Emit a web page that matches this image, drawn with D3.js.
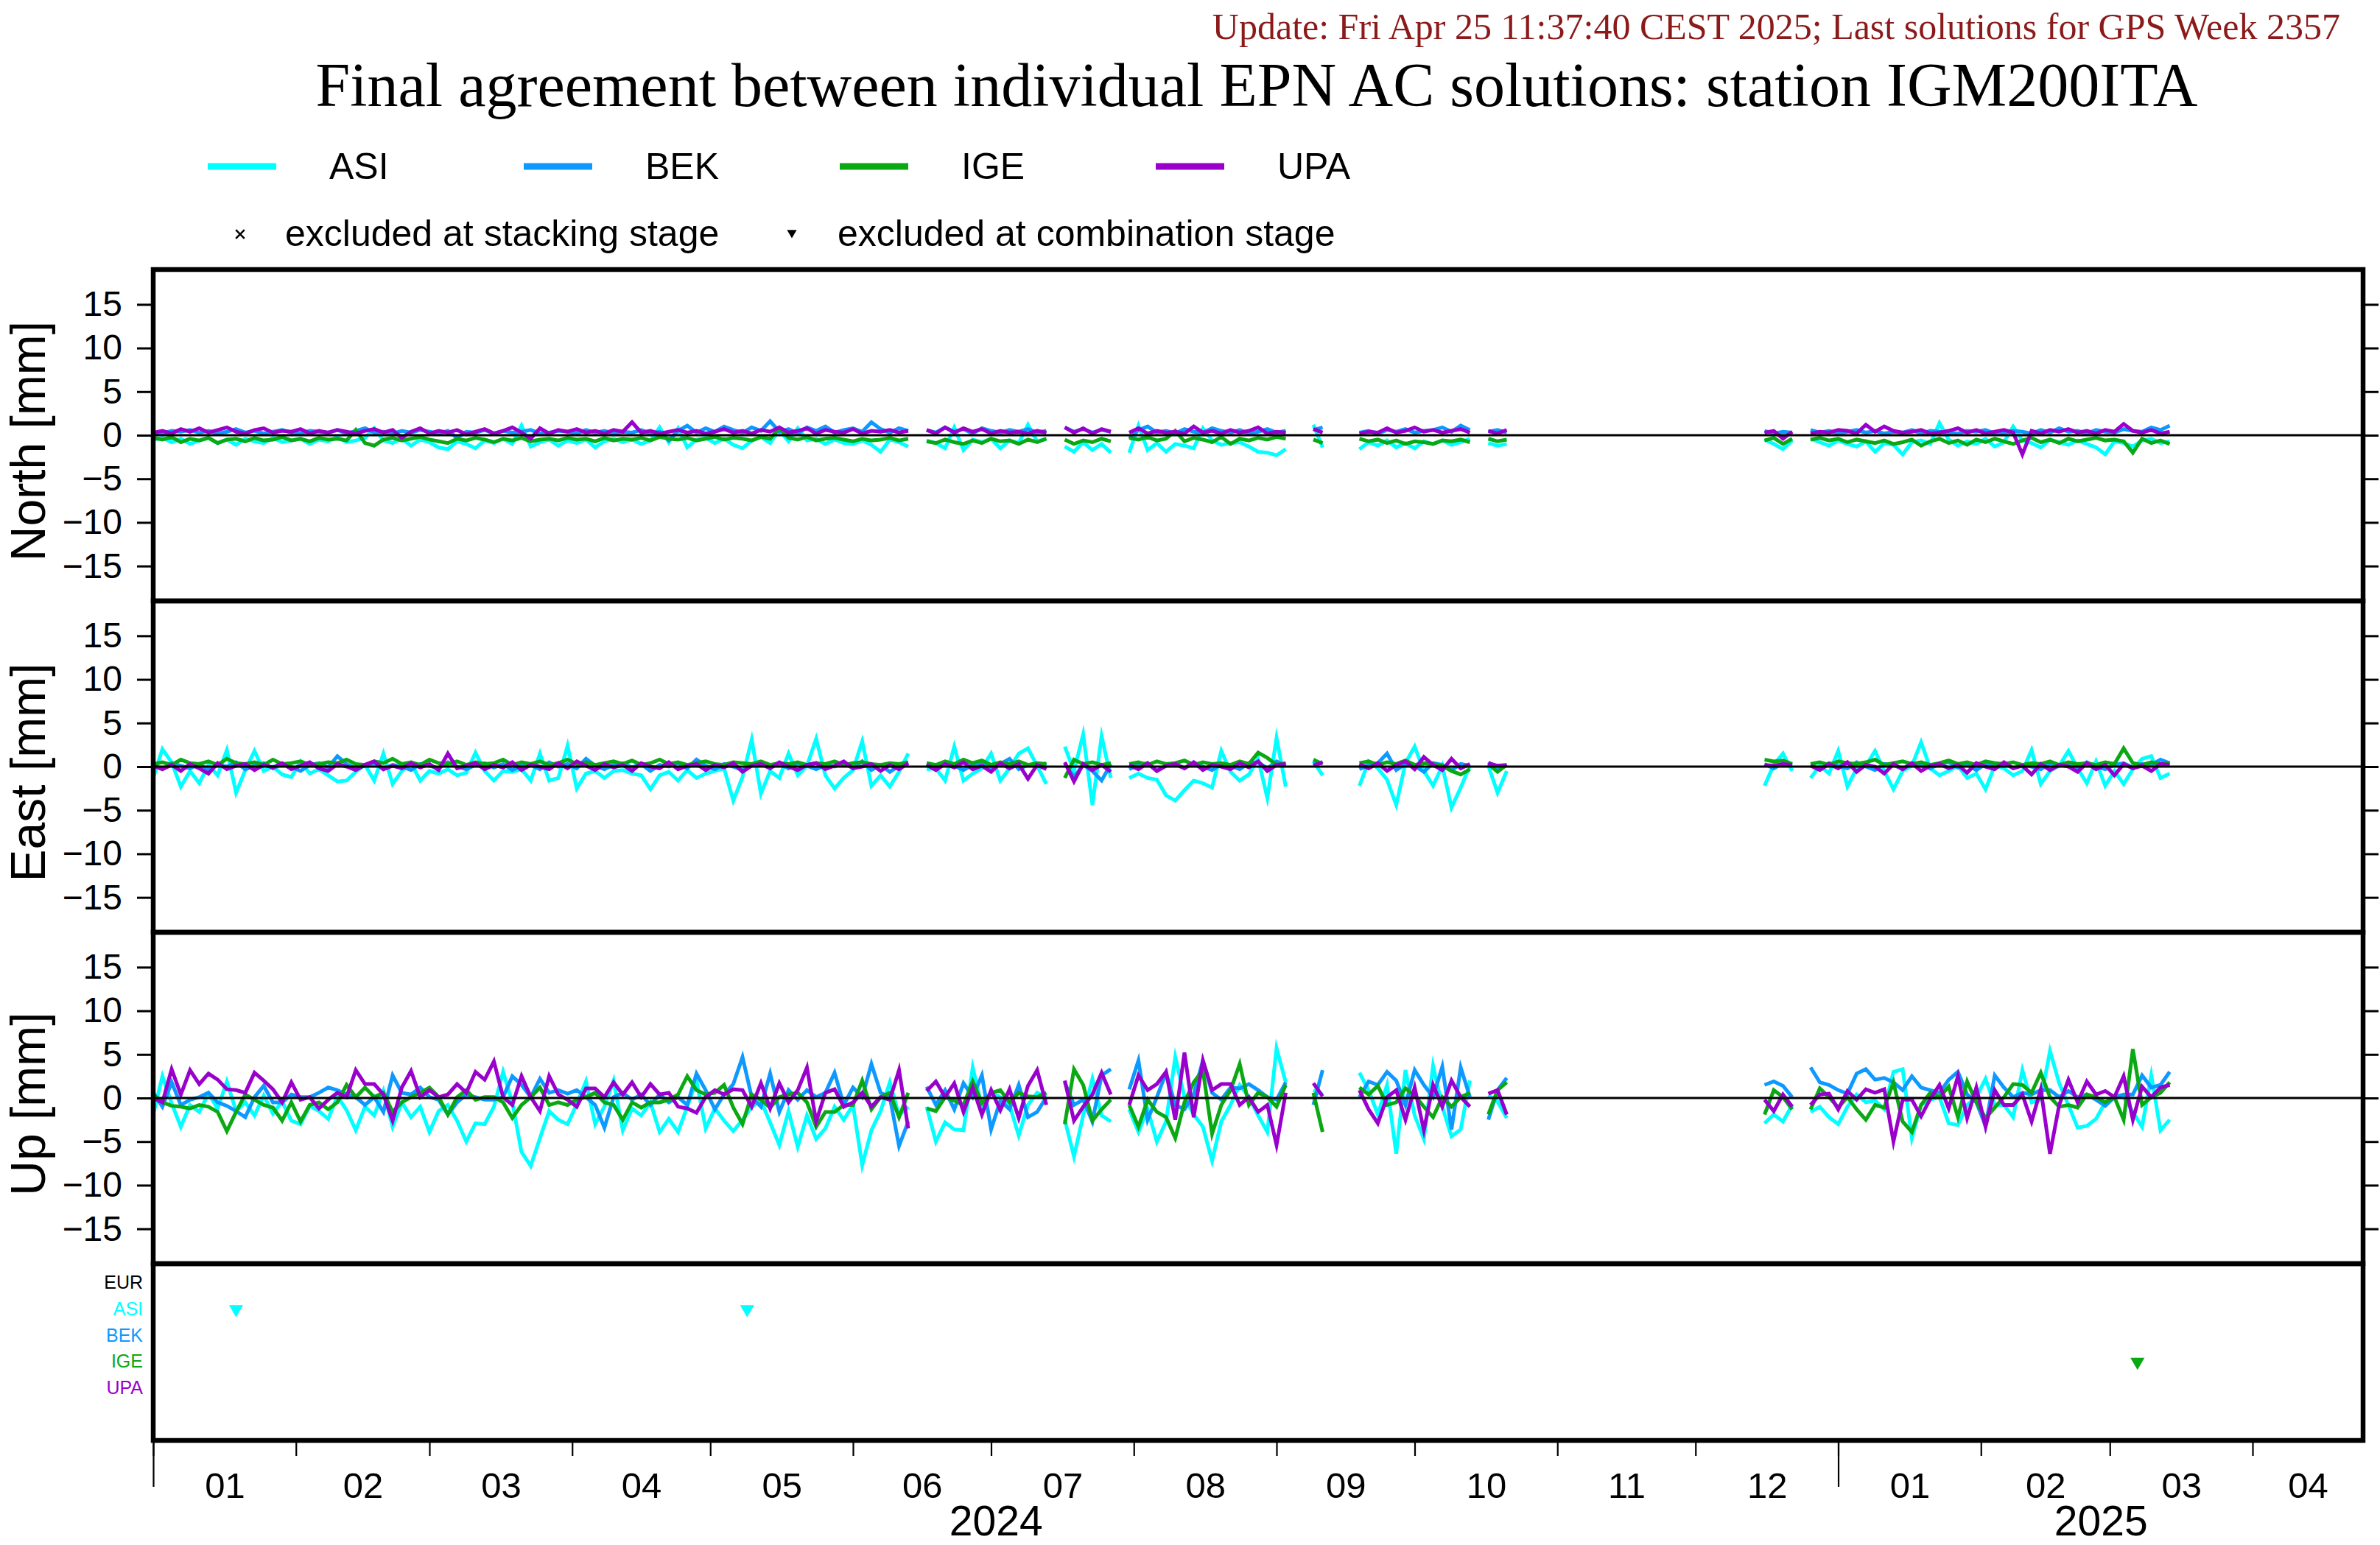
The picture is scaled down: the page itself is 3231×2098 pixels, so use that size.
<!DOCTYPE html>
<html><head><meta charset="utf-8">
<script src="https://cdn.jsdelivr.net/npm/d3@7"></script>
<style>html,body{margin:0;padding:0;background:#fff;}svg{display:block;}</style>
</head><body>
<svg id="chart" width="3231" height="2098"></svg>
<script>
// ---------------- data ----------------
const titleText = "Final agreement between individual EPN AC solutions: station IGM200ITA";
const updateText = "Update: Fri Apr 25 11:37:40 CEST 2025; Last solutions for GPS Week 2357";
const acNames = ["ASI", "BEK", "IGE", "UPA"];
const acColors = ["#00ffff", "#0d99ff", "#0aa813", "#9900cc"];
const componentLabels = ["North [mm]", "East [mm]", "Up [mm]"];
const yTickValues = [-15, -10, -5, 0, 5, 10, 15];
const timeStart = "2024-01-01";
const timeEnd = "2025-04-25";
// each series is a list of continuous segments; segment k starts at segmentStarts[k], one value every sampleStepDays
const segmentStarts = ["2024-01-01", "2024-06-17", "2024-07-17", "2024-07-31", "2024-09-09", "2024-09-19", "2024-10-17", "2024-12-16", "2024-12-26"];
const sampleStepDays = 2;

const northASI = [
 [-0.5,-0.3,-0.8,-0.4,-1.0,-0.6,-0.3,-0.9,-0.5,-1.1,-0.4,-0.7,-0.9,-0.3,-0.8,-0.6,-0.4,-1.0,-0.5,-0.7,-0.2,-0.8,-0.6,-0.3,0.8,-0.6,-0.9,-0.4,-1.2,-0.5,-0.8,-1.4,-1.6,-0.7,-1.0,-1.5,-0.6,-0.9,-0.4,-1.0,1.1,-1.3,-0.8,-0.5,-1.2,-0.6,-0.9,-0.5,-1.4,-0.7,-0.4,-0.8,-0.5,-1.0,-0.6,0.9,-0.8,0.8,-1.4,-0.5,-0.3,-0.9,-0.4,-1.1,-1.5,-0.6,-0.2,-0.9,0.6,-0.7,0.8,-0.6,-0.4,-1.0,-0.5,-0.9,-1.0,-0.6,-1.1,-1.9,-0.5,-0.8,-1.3],
 [-0.6,-0.9,-1.5,0.9,-1.7,-0.5,-0.8,-0.4,-1.5,-0.6,-0.9,1.2,-0.7,-0.4],
 [-1.3,-1.9,-0.8,-1.7,-1.0,-2.0],
 [-2.0,1.1,-1.7,-0.9,-1.9,-1.0,-1.2,-1.5,0.8,-0.6,-1.1,-0.9,-0.8,-1.3,-1.9,-2.0,-2.3,-1.6],
 [1.2,-1.4],
 [-1.6,-0.8,-1.2,-0.6,-1.4,-0.9,-1.5,-0.7,-1.0,-0.6,-1.1,-0.8,-0.4],
 [-0.9,-1.2,-1.0],
 [-0.5,-1.0,-1.6,-0.6],
 [-0.4,-0.8,-1.2,-0.6,-1.0,-1.3,-0.7,-1.9,-0.9,-1.1,-2.2,-0.8,-0.6,-1.0,1.4,-0.5,-1.2,-0.7,-1.0,-0.4,-1.3,-0.8,1.0,-0.6,-0.9,-1.4,-0.5,-0.8,-1.1,-0.6,-1.0,-1.4,-2.2,-0.7,-0.9,-1.3,-0.6,-0.4,-0.9,-0.7]
];
const northBEK = [
 [0.3,0.2,0.5,0.4,0.6,0.3,0.5,0.2,0.4,0.7,0.3,0.5,0.2,0.4,0.6,0.3,0.2,0.5,0.4,0.3,0.6,0.2,0.5,0.8,0.3,0.4,0.2,0.5,0.3,0.6,0.4,0.2,0.5,-0.3,0.4,0.3,0.6,0.2,0.5,0.3,0.4,0.6,0.2,0.3,0.5,0.4,0.2,0.6,0.3,0.5,0.2,0.4,0.3,0.6,0.2,0.4,-0.6,0.5,1.1,0.3,0.8,0.4,1.0,0.6,0.3,0.9,0.5,1.6,0.4,0.7,0.2,0.9,0.5,1.0,0.3,0.6,0.8,0.4,1.5,0.7,0.3,0.8,0.5],
 [0.6,0.3,0.9,0.4,0.7,0.2,0.8,0.5,0.3,0.6,0.4,0.7,0.3,0.5],
 [0.9,0.4,0.7,0.3,0.6,0.4],
 [-0.4,0.6,1.0,0.3,0.5,0.2,0.7,0.4,0.3,0.8,0.5,0.3,0.6,0.2,0.4,0.7,0.3,0.5],
 [0.6,0.9],
 [0.3,0.5,0.2,0.6,0.4,0.7,0.3,0.5,0.6,0.9,0.4,1.1,0.6],
 [0.4,0.6,0.3],
 [0.5,0.2,0.4,0.3],
 [0.6,0.3,0.5,0.2,0.4,0.6,0.3,0.5,0.2,0.4,0.3,0.6,0.2,0.5,0.4,0.3,0.2,0.5,0.4,0.6,0.2,0.3,0.5,0.4,0.2,0.6,0.3,0.8,0.4,0.5,0.2,0.6,0.4,0.3,0.7,0.5,0.4,0.9,0.6,1.1]
];
const northIGE = [
 [-0.3,-0.5,-0.2,-0.8,-0.4,-0.6,-0.3,-0.9,-0.5,-0.4,-0.7,-0.3,-0.6,-0.5,-0.2,-0.6,-0.4,-0.7,-0.3,-0.5,-0.4,-0.6,0.6,-0.9,-1.2,-0.5,-0.3,-0.6,-0.4,-0.2,-0.5,-0.7,-0.9,-0.4,-0.6,-0.3,-0.5,-0.8,-0.4,-0.6,-0.3,-0.7,-0.5,-0.4,-0.6,-0.3,-0.5,-0.4,-0.7,-0.3,-0.6,-0.4,-0.5,-0.3,-0.6,-0.2,-0.4,-0.5,-0.3,-0.6,-0.4,-0.2,-0.5,-0.3,-0.4,-0.6,-0.2,-0.4,0.8,-0.3,-0.5,-0.2,-0.6,-0.4,-0.3,-0.5,-0.7,-0.4,-0.6,-0.5,-0.3,-0.6,-0.4],
 [-0.7,-0.9,-0.5,-0.8,-1.0,-0.6,-0.9,-0.4,-0.7,-0.6,-1.0,-0.5,-0.8,-0.4],
 [-0.5,-1.0,-0.6,-0.8,-0.4,-0.7],
 [-0.3,-0.5,-0.2,-0.6,-0.4,0.5,-0.7,-0.3,-0.5,-0.8,-0.2,-1.0,-0.4,-0.6,-0.3,-0.5,-0.2,-0.4],
 [-0.5,-0.9],
 [-0.4,-0.7,-0.5,-0.9,-0.6,-1.0,-0.7,-0.8,-1.0,-0.6,-0.7,-0.5,-0.8],
 [-0.4,-0.7,-0.5],
 [-0.6,-0.3,-1.0,-0.4],
 [-0.5,-0.3,-0.6,-0.4,-0.8,-0.5,-0.7,-0.9,-0.6,-1.0,-0.8,-0.5,-1.2,-0.7,-0.4,-0.9,-0.6,-1.1,-0.5,-0.8,-0.4,-0.7,-1.0,-0.6,-0.3,-0.8,-0.5,-0.9,-0.4,-0.7,-0.5,-0.3,-0.6,-0.5,-0.7,-2.0,-0.4,-0.9,-0.6,-1.0]
];
const northUPA = [
 [0.3,0.5,0.2,0.7,0.4,0.8,0.3,0.6,0.9,0.4,0.2,0.6,0.8,0.3,0.5,0.4,0.7,0.2,0.5,0.3,0.6,0.4,0.2,0.5,0.7,0.3,0.6,-0.3,0.4,0.8,0.2,0.5,0.3,0.6,0.1,0.4,0.7,0.2,0.5,0.9,0.3,-0.4,0.8,0.2,0.6,0.4,0.7,0.3,0.5,0.2,0.6,0.4,1.5,0.3,0.5,0.2,0.4,0.6,0.3,0.5,0.2,0.4,0.7,0.3,0.5,0.2,0.6,0.4,0.9,0.3,0.5,0.8,0.2,0.6,0.4,0.3,0.7,0.2,0.5,0.4,0.6,0.3,0.5],
 [0.6,0.2,0.9,0.3,0.8,0.4,0.7,0.2,0.5,0.3,0.4,0.2,0.5,0.3],
 [0.9,0.3,0.8,0.2,0.7,0.4],
 [0.3,0.8,0.2,0.5,0.3,0.4,0.2,1.0,0.3,0.5,0.2,0.6,0.3,0.5,0.9,0.2,0.4,0.3],
 [0.7,0.3],
 [0.2,0.4,0.3,0.8,0.3,0.5,0.9,0.4,0.6,0.3,0.5,0.7,0.3],
 [0.5,0.2,0.6],
 [0.3,0.5,-0.4,0.4],
 [0.2,0.4,0.3,0.6,0.5,0.2,1.2,0.4,1.0,0.5,0.3,0.4,0.6,0.2,0.3,0.5,0.8,0.3,0.6,0.2,0.4,0.6,0.3,-2.2,0.5,0.2,0.6,0.4,0.7,0.3,0.5,0.2,0.6,0.4,1.3,0.5,0.3,0.6,0.2,0.4]
];

const eastASI = [
 [-1.3,2.0,0.5,-2.3,-0.5,-1.9,0.2,-1.0,1.9,-3.0,-0.4,1.8,-0.5,0.0,-0.9,-1.2,0.6,-0.8,-0.3,-1.0,-1.7,-1.6,-0.6,0.2,-1.6,1.5,-2.0,-0.5,0.4,-1.6,-0.5,-0.8,-0.3,-1.0,-0.7,1.6,-0.5,-1.6,-0.5,-0.6,-0.3,-1.6,1.5,-1.6,-1.3,2.4,-2.5,-0.8,-0.5,-1.3,-0.5,-0.4,-0.8,-1.0,-2.6,-1.0,-0.6,-1.6,-0.4,-1.3,-0.8,-0.5,-0.2,-3.9,-1.2,3.1,-3.1,-0.5,-1.3,1.5,-1.0,0.1,3.2,-1.0,-2.5,-1.3,-0.4,2.9,-2.2,-1.0,-2.3,-0.6,1.5],
 [-0.3,-0.2,-1.6,2.3,-1.6,-0.8,-0.2,1.5,-1.6,-0.2,1.5,2.1,0.1,-2.0],
 [2.3,-0.5,3.7,-4.4,3.5,-1.3],
 [-1.3,-0.8,-1.3,-1.5,-3.3,-3.9,-2.7,-1.6,-1.9,-2.4,1.8,-0.6,-1.6,-0.9,0.9,-3.6,3.3,-2.3],
 [0.6,-1.0],
 [-2.2,0.6,-0.2,-1.5,-4.4,0.4,2.3,-0.5,-2.2,0.1,-4.7,-2.4,0.1],
 [0.1,-3.0,-0.5],
 [-2.2,0.2,1.5,-0.5],
 [-1.3,0.1,-0.8,1.8,-2.3,-0.2,0.1,1.8,-0.5,-2.6,-0.5,0.1,2.8,-0.2,-1.0,-0.5,0.1,-1.3,-0.8,-2.6,0.1,-0.2,-1.0,-0.5,1.9,-2.0,-0.5,0.1,1.8,-0.2,-1.9,0.6,-2.2,-0.5,-2.0,-0.3,0.9,1.2,-1.3,-0.8]
];
const eastBEK = [
 [0.2,-0.3,0.4,0.1,-0.2,0.3,-0.4,0.2,0.0,0.5,-0.3,0.1,0.4,-0.2,0.3,0.0,-0.5,0.2,0.4,-0.1,1.2,0.3,-0.2,0.1,0.4,-0.3,0.2,0.0,-0.4,0.3,0.1,-0.2,0.5,0.0,-0.3,0.2,0.4,-0.1,0.3,-0.4,0.1,0.2,-0.3,0.5,0.0,0.3,-0.2,0.9,0.1,-0.3,0.2,0.4,-0.1,0.3,-0.5,0.2,0.0,0.4,-0.2,0.8,0.1,-0.3,0.3,0.0,-0.4,0.2,0.5,-0.1,0.3,-0.2,0.4,0.1,-0.3,0.2,0.0,0.4,-0.2,0.6,-0.4,0.2,-0.6,0.1,0.3],
 [0.3,-0.2,0.5,0.1,-0.4,0.2,0.4,-0.1,0.3,0.9,-0.3,0.2,0.0,0.4],
 [0.4,-1.2,0.2,-0.5,-1.6,0.3],
 [-0.3,0.2,0.4,-0.5,0.1,0.3,-0.2,0.5,0.0,-0.4,0.3,0.1,-0.3,0.4,0.5,-0.2,0.6,0.1],
 [0.3,0.5],
 [-0.3,0.2,0.4,1.5,-0.4,0.3,0.1,-0.6,0.4,0.2,-0.4,0.3,0.1],
 [0.5,-0.4,0.2],
 [0.3,-0.2,0.4,0.1],
 [0.2,-0.3,0.4,0.1,-0.2,0.5,0.0,-0.4,0.3,0.2,-0.3,0.4,0.1,-0.2,0.3,0.5,-0.1,0.2,-0.4,0.3,0.1,0.4,-0.2,0.2,0.0,-0.3,0.4,0.1,0.3,-0.2,0.5,0.0,-0.3,0.2,0.4,-0.1,0.3,0.2,0.8,0.4]
];
const eastIGE = [
 [0.3,0.5,0.2,0.8,0.4,0.3,0.6,0.2,0.9,0.4,0.3,0.5,0.2,0.8,0.3,0.4,0.6,0.2,0.3,0.5,0.4,0.8,0.3,0.2,0.6,0.4,0.9,0.3,0.5,0.2,0.8,0.4,0.3,0.6,0.2,0.5,0.3,0.4,0.8,0.2,0.5,0.3,0.6,0.2,0.4,0.8,0.3,0.5,0.2,0.4,0.6,0.3,0.7,0.2,0.4,0.8,0.3,0.5,0.2,0.4,0.6,0.3,0.2,0.5,0.4,0.3,0.6,0.2,0.4,0.3,0.5,0.2,0.4,0.3,0.6,0.2,0.4,0.5,0.3,0.2,0.4,0.3,0.5],
 [0.4,0.2,0.6,0.3,0.8,0.4,0.7,0.2,0.5,0.3,0.6,0.2,0.4,0.3],
 [-1.3,0.8,0.3,0.5,0.2,0.4],
 [0.3,0.5,0.2,0.6,0.3,0.4,0.7,0.2,0.5,0.3,0.4,0.2,0.6,0.3,1.6,1.0,0.2,0.4],
 [0.8,0.3],
 [0.4,0.6,0.2,0.5,0.3,0.7,0.2,0.4,0.3,0.1,-0.5,-0.9,-0.3],
 [0.3,-0.6,0.2],
 [0.8,0.6,0.7,0.3],
 [0.3,0.5,0.2,0.6,0.4,0.3,0.5,0.8,0.2,0.4,0.6,0.3,0.5,0.2,0.4,0.7,0.3,0.5,0.2,0.6,0.4,0.3,0.5,0.2,0.4,0.3,0.6,0.2,0.5,0.3,0.4,0.2,0.5,0.3,2.1,0.4,0.2,0.5,0.3,0.4]
];
const eastUPA = [
 [0.1,-0.3,0.2,-0.5,0.3,-0.2,-0.8,0.4,-0.3,0.1,0.3,-0.4,0.2,-0.1,0.4,-0.3,0.1,0.5,-0.2,-0.5,0.3,0.0,-0.4,0.2,0.6,-0.3,0.1,-0.2,0.4,-0.1,0.3,-0.4,1.5,-0.2,0.1,0.4,-0.3,0.2,-0.1,0.5,-0.4,0.2,0.0,-0.3,0.4,-0.2,0.6,0.1,-0.4,0.3,-0.1,0.2,-0.5,0.4,0.0,-0.2,0.5,-0.3,0.1,0.3,-0.4,0.2,-0.1,0.4,-0.6,0.1,0.3,-0.2,0.5,0.0,-0.4,0.2,0.4,-0.3,0.1,0.6,-0.2,0.0,0.3,-0.5,0.2,-0.3,0.4],
 [0.2,-0.4,0.3,-0.1,0.5,-0.3,0.1,-0.6,0.4,-0.2,0.3,-1.4,0.2,-0.3],
 [0.5,-1.7,0.3,-0.4,0.2,-0.6],
 [0.2,-0.3,0.4,-0.5,0.1,0.3,-0.2,0.5,-0.4,0.2,0.0,-0.3,0.4,-0.1,0.6,-0.5,0.2,0.3],
 [0.1,0.5],
 [0.3,-0.2,0.4,-0.5,0.2,0.6,-0.3,1.1,0.2,-0.4,0.9,-0.2,0.3],
 [0.4,0.1,0.2],
 [0.2,0.1,0.3,0.2],
 [0.1,-0.4,0.3,-0.2,0.5,-0.6,0.2,0.0,-0.8,0.3,-0.3,0.4,-0.5,0.1,0.3,-0.2,0.2,-0.7,0.4,0.0,-0.3,0.5,-0.2,0.1,-0.9,0.3,-0.4,0.2,0.0,-0.6,0.4,-0.3,0.2,-1.0,0.3,-0.2,0.1,-0.5,0.3,0.2]
];

const upASI = [
 [-1.9,2.5,-0.6,-3.3,-0.8,-1.6,0.5,-1.2,1.9,-1.5,-0.5,-2.0,0.3,-1.8,-0.4,-2.6,-3.0,-0.9,-1.5,-2.4,0.2,-1.4,-3.7,-1.0,-2.0,0.8,-3.3,-0.5,-2.2,-1.0,-3.9,-1.5,-0.8,-2.6,-5.0,-2.9,-3.0,-1.0,3.0,-0.5,-6.2,-7.8,-4.6,-1.5,-2.5,-3.0,-0.7,1.9,-3.0,-1.0,2.0,-3.7,-1.2,-2.0,-0.5,-3.9,-2.4,-3.9,-1.0,2.0,-3.5,-1.2,-2.6,-3.8,-2.5,-1.0,-0.3,-2.8,-5.4,-1.5,-5.6,-2.0,-4.7,-3.5,-1.0,-2.5,-0.8,-7.7,-3.7,-1.5,1.8,-2.0,-1.0],
 [-1.0,-5.0,-2.8,-3.6,-3.7,3.5,-1.0,0.6,0.1,-0.8,-4.3,-0.8,0.6,0.1],
 [-2.5,-6.7,-2.0,2.2,-2.0,-2.7],
 [-1.3,-3.9,-1.3,-5.0,-2.7,4.7,0.1,-1.9,-3.3,-7.2,-2.7,-0.8,1.5,0.1,-2.0,-3.9,5.7,1.8],
 [0.9,0.4],
 [2.9,0.9,-1.9,1.5,-6.4,3.2,-2.0,-4.7,3.7,-1.0,-4.4,-3.6,2.0],
 [0.3,-0.4,-2.3],
 [-2.9,-1.9,-2.7,-0.8],
 [-1.6,-1.0,-2.2,-3.0,-1.0,0.4,-0.5,-0.3,-1.3,3.0,3.3,-4.6,-0.8,-0.2,0.1,-2.9,-3.1,-0.8,0.1,2.2,-0.8,-0.8,-2.2,3.2,-0.5,-0.2,5.4,1.7,-0.8,-3.4,-3.2,-2.4,-0.5,0.1,0.1,-1.6,-3.3,2.6,-3.7,-2.5]
];
const upBEK = [
 [0.6,-1.0,1.8,-0.8,-0.2,0.1,0.6,-0.5,-0.9,-1.5,-2.2,0.1,1.4,-0.5,-0.5,0.4,0.1,0.1,0.6,1.2,0.9,0.4,0.1,-0.8,0.1,-1.6,2.6,0.6,0.4,1.2,0.1,-0.2,-1.9,-0.5,0.4,0.1,-0.2,-0.2,0.1,2.5,1.5,0.1,2.2,0.6,0.9,0.5,0.9,0.1,-0.8,-3.4,0.1,0.6,-0.2,0.4,-0.8,0.4,-0.5,0.1,-0.8,2.8,0.9,-1.3,0.4,1.6,4.7,0.1,-1.0,2.8,-1.6,0.9,-0.2,0.9,0.1,0.6,2.9,-0.8,1.2,0.1,3.9,0.6,0.1,-5.5,-2.7],
 [1.3,-0.8,0.9,-1.3,1.7,0.1,2.6,-3.6,-0.3,-1.3,1.5,-2.2,-1.6,0.1],
 [1.8,-0.8,-0.2,-2.7,2.6,3.3],
 [1.0,4.3,-2.5,0.1,2.9,-0.8,-1.3,0.4,4.3,0.6,-0.2,1.2,1.1,1.6,0.9,0.1,-0.2,1.8],
 [-0.8,3.2],
 [0.1,1.9,1.5,3.0,2.0,-0.8,3.2,1.5,0.1,3.6,-3.6,3.5,0.1],
 [-2.5,0.9,2.3],
 [1.5,1.9,1.4,0.1],
 [3.5,1.8,1.5,0.9,0.5,2.8,3.3,2.1,2.3,1.8,0.9,2.5,1.2,0.9,0.6,2.1,3.0,0.4,-0.5,-3.2,2.6,1.2,0.1,0.6,0.4,0.9,0.9,0.1,0.8,0.1,0.4,-0.2,-0.9,0.1,0.4,0.4,2.6,1.2,1.5,3.0]
];
const upIGE = [
 [0.4,-0.5,-0.9,-1.0,-1.2,-0.8,-1.0,-1.6,-3.8,-1.6,0.4,-0.2,-0.8,-1.1,-2.6,-0.5,-2.7,-0.8,-0.5,-1.3,-0.5,1.5,0.1,1.2,0.1,0.6,-1.6,-0.5,0.1,0.6,1.2,0.1,-1.9,0.1,0.9,-0.2,0.1,0.1,-0.5,-2.3,-0.8,0.1,1.2,-0.8,-0.5,-0.8,-0.2,0.1,0.6,-0.5,-0.8,-2.5,-0.5,-1.1,-0.5,-0.5,-0.2,0.4,2.5,0.9,0.4,0.6,1.5,-1.1,-3.0,0.4,-0.2,-1.1,0.1,0.4,0.6,-0.5,-3.3,-1.6,-1.6,-0.8,-0.8,2.0,-1.3,0.1,0.6,-2.2,0.6],
 [-1.2,-1.5,0.1,-0.3,-0.8,1.9,-0.6,0.6,0.9,-0.5,0.6,0.2,0.1,0.6],
 [-3.0,3.3,1.5,-2.6,-1.3,-0.2],
 [-0.8,-3.3,-0.2,-1.6,-2.2,-4.6,-0.5,1.8,3.2,-4.1,-0.8,0.9,3.9,-0.8,0.6,0.1,-1.0,1.5],
 [0.6,-3.9],
 [1.2,0.4,1.4,-0.8,-0.5,1.1,0.3,-1.0,-2.2,0.1,-1.0,0.1,0.6],
 [-1.9,0.9,1.8],
 [-1.9,0.9,0.1,-1.3],
 [-1.3,1.1,0.1,-1.1,0.1,-1.3,-2.5,-0.8,-1.1,1.8,-2.7,-3.9,-0.8,0.6,0.1,1.3,-2.2,1.9,-0.5,-2.3,-1.1,0.1,1.6,1.5,0.6,2.9,0.1,-1.0,-0.8,-1.1,0.4,0.1,-0.5,0.1,-2.5,5.6,-0.8,0.1,0.6,1.8]
];
const upUPA = [
 [0.0,-0.5,3.3,0.4,3.2,1.6,2.8,2.1,1.0,0.9,0.6,2.9,2.0,1.0,-0.5,1.8,-0.2,0.1,-1.2,-0.2,0.6,0.1,3.2,1.6,1.6,0.4,-2.6,1.2,3.1,0.1,0.9,0.1,0.4,1.6,0.6,3.0,2.1,4.2,0.1,-0.8,2.5,0.1,-1.5,2.5,0.4,-0.2,-1.0,1.1,1.1,0.1,1.8,0.4,1.8,0.1,1.6,0.4,0.6,-1.0,-1.2,-1.7,0.1,0.9,0.4,1.0,0.9,-1.0,1.7,-1.2,1.7,-0.5,0.9,3.5,-2.7,0.6,1.0,-1.0,-0.5,0.6,-1.0,0.1,-0.2,3.2,-3.5],
 [0.8,1.9,0.1,1.7,-1.6,1.2,-1.9,0.9,-1.4,1.0,-2.3,1.4,3.2,-0.8],
 [2.0,-2.6,-1.0,0.4,2.9,0.4],
 [-0.8,2.6,0.9,1.6,3.0,-2.5,5.2,-2.2,4.3,0.9,1.6,1.6,-0.8,0.1,-1.6,-0.8,-5.4,0.6],
 [1.7,0.2],
 [0.9,-1.3,-2.9,0.1,0.9,-2.5,1.2,-3.7,1.5,-1.0,2.0,0.1,-1.0],
 [0.5,0.9,-1.9],
 [-0.2,-1.5,0.4,-1.0],
 [-0.8,0.4,0.5,-1.3,0.8,-0.2,1.0,0.6,1.0,-5.0,-0.2,-0.2,-2.1,-0.1,1.5,-1.2,2.5,-2.3,1.2,-3.3,0.9,-0.8,-0.8,0.4,-2.7,1.0,-6.4,-0.8,2.1,-0.5,1.9,0.4,0.8,0.1,2.5,-2.5,1.3,0.1,1.2,1.5]
];

// exclusions shown in the bottom panel
const statusRows = ["EUR", "ASI", "BEK", "IGE", "UPA"];
const statusRowColors = ["#000000", "#00ffff", "#0d99ff", "#0aa813", "#9900cc"];
const excludedAC = ["ASI", "ASI", "IGE"];
const excludedDates = ["2024-01-19", "2024-05-09", "2025-03-07"];

// ---------------- drawing ----------------
const sans = "'Liberation Sans', Arial, Helvetica, sans-serif";
const serif = "'Liberation Serif', 'Times New Roman', Times, serif";
const parseDate = d3.utcParse("%Y-%m-%d");
const svg = d3.select("#chart");
svg.append("rect").attr("width", 3231).attr("height", 2098).attr("fill", "#fff");

const plotLeft = 208, plotRight = 3208;
const panelTops = [366, 816, 1266, 1716];
const panelHeights = [450, 450, 450, 240];
const bottomY = panelTops[3] + panelHeights[3];

const x = d3.scaleUtc().domain([parseDate(timeStart), parseDate(timeEnd)]).range([plotLeft, plotRight]);

// header texts
svg.append("text").attr("x", 3177).attr("y", 53).attr("text-anchor", "end")
  .attr("font-family", serif).attr("font-size", 50).attr("fill", "#8b1a1a").text(updateText);
svg.append("text").attr("x", (plotLeft + plotRight) / 2 - 2).attr("y", 144).attr("text-anchor", "middle")
  .attr("font-family", serif).attr("font-size", 84).attr("fill", "#000").text(titleText);

// legend row 1
const legend = svg.append("g");
acNames.forEach((name, i) => {
  const x0 = 282 + 429 * i;
  legend.append("line").attr("x1", x0).attr("x2", x0 + 93).attr("y1", 226).attr("y2", 226)
    .attr("stroke", acColors[i]).attr("stroke-width", 9);
  legend.append("text").attr("x", x0 + 165).attr("y", 243).attr("font-family", sans)
    .attr("font-size", 50).text(name);
});
// legend row 2
legend.append("path").attr("d", d3.symbol(d3.symbolX, 90)()).attr("transform", "translate(326,318)")
  .attr("stroke", "#000").attr("stroke-width", 2.5).attr("fill", "none");
legend.append("text").attr("x", 387).attr("y", 334).attr("font-family", sans).attr("font-size", 50).text("excluded at stacking stage");
legend.append("path").attr("d", d3.symbol(d3.symbolTriangle, 75)()).attr("transform", "translate(1075,316) rotate(180)")
  .attr("fill", "#000");
legend.append("text").attr("x", 1137).attr("y", 334).attr("font-family", sans).attr("font-size", 50).text("excluded at combination stage");

// component panels
const seriesByComponent = [
  [northASI, northBEK, northIGE, northUPA],
  [eastASI, eastBEK, eastIGE, eastUPA],
  [upASI, upBEK, upIGE, upUPA]
];
function toPoints(segs) {
  const pts = [];
  segs.forEach((seg, s) => {
    const t0 = parseDate(segmentStarts[s]);
    if (s > 0) pts.push(null);
    seg.forEach((v, j) => pts.push({ date: d3.utcDay.offset(t0, j * sampleStepDays), value: v }));
  });
  return pts;
}

const defs = svg.append("defs");
seriesByComponent.forEach((series, p) => {
  const top = panelTops[p], h = panelHeights[p];
  const y = d3.scaleLinear().domain([-19, 19]).range([top + h, top]);
  const g = svg.append("g");
  defs.append("clipPath").attr("id", "clip" + p).append("rect")
    .attr("x", plotLeft).attr("y", top).attr("width", plotRight - plotLeft).attr("height", h);

  const line = d3.line().defined(d => d !== null).x(d => x(d.date)).y(d => y(d.value));
  const dg = g.append("g").attr("clip-path", `url(#clip${p})`);
  series.forEach((segs, i) => {
    dg.append("path").datum(toPoints(segs)).attr("d", line)
      .attr("fill", "none").attr("stroke", acColors[i]).attr("stroke-width", 5)
      .attr("stroke-linejoin", "miter").attr("stroke-miterlimit", 6);
  });
  // zero line
  g.append("line").attr("x1", plotLeft).attr("x2", plotRight).attr("y1", y(0)).attr("y2", y(0))
    .attr("stroke", "#000").attr("stroke-width", 3);

  // left axis
  g.append("g").attr("transform", `translate(${plotLeft},0)`)
    .call(d3.axisLeft(y).tickValues(yTickValues).tickSize(22).tickPadding(20))
    .call(a => a.select(".domain").remove())
    .call(a => a.selectAll("line").attr("stroke-width", 3))
    .call(a => a.selectAll("text").attr("font-size", 48).attr("font-family", sans).attr("fill", "#000"));
  // right axis
  g.append("g").attr("transform", `translate(${plotRight},0)`)
    .call(d3.axisRight(y).tickValues(yTickValues).tickSize(21).tickFormat(""))
    .call(a => a.select(".domain").remove())
    .call(a => a.selectAll("line").attr("stroke-width", 3));

  // axis title
  g.append("text").attr("transform", `translate(61,${top + h / 2 + 8}) rotate(-90)`)
    .attr("text-anchor", "middle").attr("font-family", sans).attr("font-size", 66).text(componentLabels[p]);
});

// status panel
const rowY = d3.scalePoint().domain(statusRows).range([panelTops[3] + 25, panelTops[3] + 168]);
const sg = svg.append("g");
statusRows.forEach((r, i) => {
  sg.append("text").attr("x", 194).attr("y", rowY(r)).attr("dy", "0.36em").attr("text-anchor", "end")
    .attr("font-family", sans).attr("font-size", 25).attr("fill", statusRowColors[i]).text(r);
});
excludedDates.forEach((d, i) => {
  const ac = excludedAC[i];
  sg.append("path").attr("d", d3.symbol(d3.symbolTriangle, 160)())
    .attr("transform", `translate(${x(parseDate(d))},${rowY(ac) + 1}) rotate(180)`)
    .attr("fill", acColors[acNames.indexOf(ac)]);
});

// frames
panelTops.forEach((t, p) => {
  svg.append("rect").attr("x", plotLeft).attr("y", t).attr("width", plotRight - plotLeft).attr("height", panelHeights[p])
    .attr("fill", "none").attr("stroke", "#000").attr("stroke-width", 6.5);
});

// time axis
const t0 = parseDate(timeStart), t1 = parseDate(timeEnd);
const monthStarts = d3.utcMonth.range(t0, t1);
const yearStarts = d3.utcYear.range(t0, t1);
const xa = svg.append("g").attr("transform", `translate(0,${bottomY})`);
xa.append("g").call(d3.axisBottom(x).tickValues(monthStarts).tickSize(21).tickFormat(""))
  .call(a => a.select(".domain").remove())
  .call(a => a.selectAll("line").attr("stroke-width", 2.2));
xa.append("g").call(d3.axisBottom(x).tickValues(yearStarts).tickSize(63).tickFormat(""))
  .call(a => a.select(".domain").remove())
  .call(a => a.selectAll("line").attr("stroke-width", 2.2));
const monthMids = monthStarts.map(m => {
  const a = Math.max(+m, +t0), b = Math.min(+d3.utcMonth.offset(m, 1), +t1);
  return new Date((a + b) / 2);
});
xa.append("g").call(d3.axisBottom(x).tickValues(monthMids).tickSize(0).tickPadding(43).tickFormat(d3.utcFormat("%m")))
  .call(a => a.select(".domain").remove())
  .call(a => a.selectAll("text").attr("font-size", 49).attr("font-family", sans).attr("fill", "#000"));
const yearMids = yearStarts.map(yv => {
  const a = Math.max(+yv, +t0), b = Math.min(+d3.utcYear.offset(yv, 1), +t1);
  return new Date((a + b) / 2);
});
xa.append("g").call(d3.axisBottom(x).tickValues(yearMids).tickSize(0).tickPadding(89).tickFormat(d3.utcFormat("%Y")))
  .call(a => a.select(".domain").remove())
  .call(a => a.selectAll("text").attr("font-size", 57).attr("font-family", sans).attr("fill", "#000"));
</script>
</body></html>
